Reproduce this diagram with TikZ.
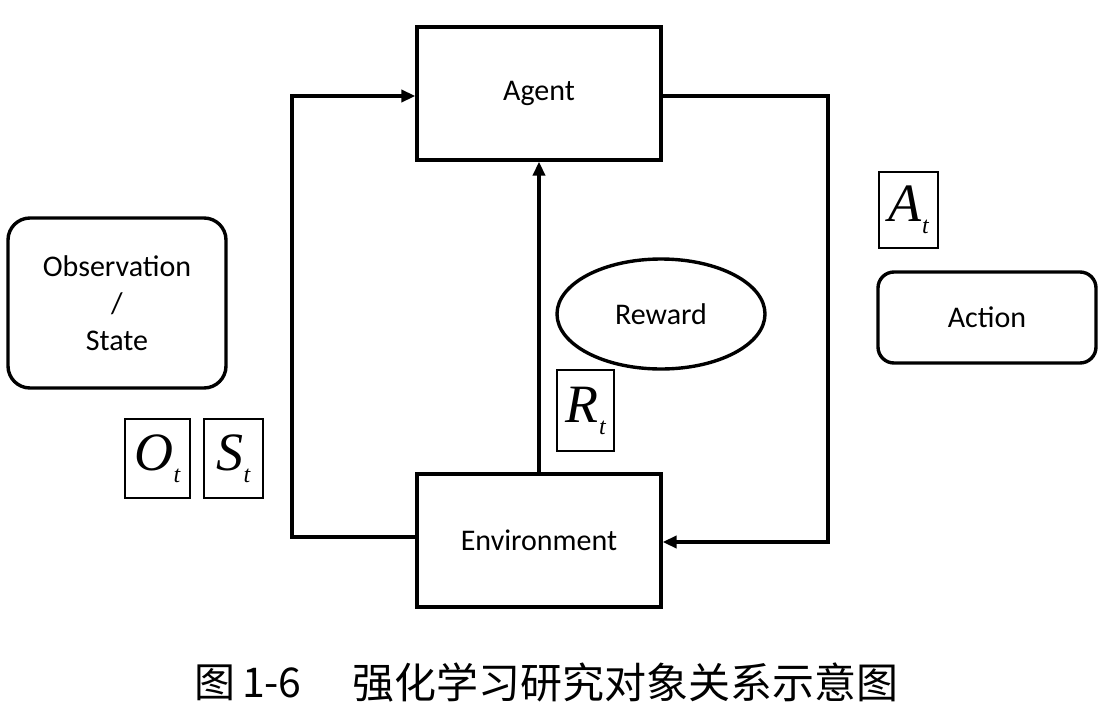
\documentclass[tikz,border=0pt]{standalone}
\usepackage{fontspec}
\setmainfont{Carlito}
\newfontfamily\timesfont{Liberation Serif}
\newfontfamily\cjk{Noto Sans CJK SC}
\usetikzlibrary{arrows.meta,shapes.geometric}
\begin{document}
\begin{tikzpicture}[x=1pt,y=-1pt,
  box/.style={draw,line width=3.2pt,minimum width=244pt,minimum height=133pt,font=\fontsize{30}{36}\selectfont},
  rbox/.style={draw,line width=3.4pt,rounded corners=22pt,font=\fontsize{30}{37}\selectfont,align=center},
  lab/.style={draw,line width=1.6pt,inner sep=0pt,font=\fontsize{54}{54}\selectfont\timesfont\itshape},
  conn/.style={line width=3.6pt,-{Triangle[length=14pt,width=12pt]}}]
\useasboundingbox (0,0) rectangle (1103,718);
\node[box] (agent) at (539,93.5) {\raisebox{-4pt}{Agent}};
\node[box] (env) at (539,540.5) {\raisebox{-2pt}{Environment}};
\node[rbox,minimum width=218pt,minimum height=170pt] (obs) at (117,303) {Observation\\/\\State};
\node[rbox,minimum width=218pt,minimum height=91pt,rounded corners=16pt] (act) at (987,317.5) {Action};
\node[draw,ellipse,line width=3.4pt,minimum width=208pt,minimum height=110pt,font=\fontsize{30}{36}\selectfont] (rew) at (661,314) {Reward};
\node[lab,minimum width=57pt,minimum height=81pt] (rt) at (585.5,410.5) {R\kern1pt\raisebox{-12pt}{\fontsize{24}{24}\selectfont t}};
\node[lab,minimum width=59pt,minimum height=76pt] (at) at (908.5,210) {A\kern1pt\raisebox{-12pt}{\fontsize{24}{24}\selectfont t}};
\node[lab,minimum width=65pt,minimum height=79pt] (ot) at (157.5,458.5) {O\kern0pt\raisebox{-12pt}{\fontsize{24}{24}\selectfont t}};
\node[lab,minimum width=59pt,minimum height=79pt] (st) at (233.5,458.5) {S\kern0pt\raisebox{-12pt}{\fontsize{24}{24}\selectfont t}};
\coordinate (lc1) at (292,537);
\coordinate (lc2) at (292,96);
\coordinate (rc1) at (828,96);
\coordinate (rc2) at (828,542);
\draw[conn] (env.west |- lc1) -- (lc1) -- (lc2) -- (agent.west |- lc2);
\draw[conn] (agent.east |- rc1) -- (rc1) -- (rc2) -- (env.east |- rc2);
\draw[conn] (env.north) -- (agent.south);
\node[anchor=west,inner sep=0pt,font=\fontsize{41}{41}\selectfont\cjk] (cap1) at (194,683) {图\,1-6};
\node[anchor=west,inner sep=0pt,font=\fontsize{42}{42}\selectfont\cjk] (cap2) at (352,683) {强化学习研究对象关系示意图};
\end{tikzpicture}
\end{document}
